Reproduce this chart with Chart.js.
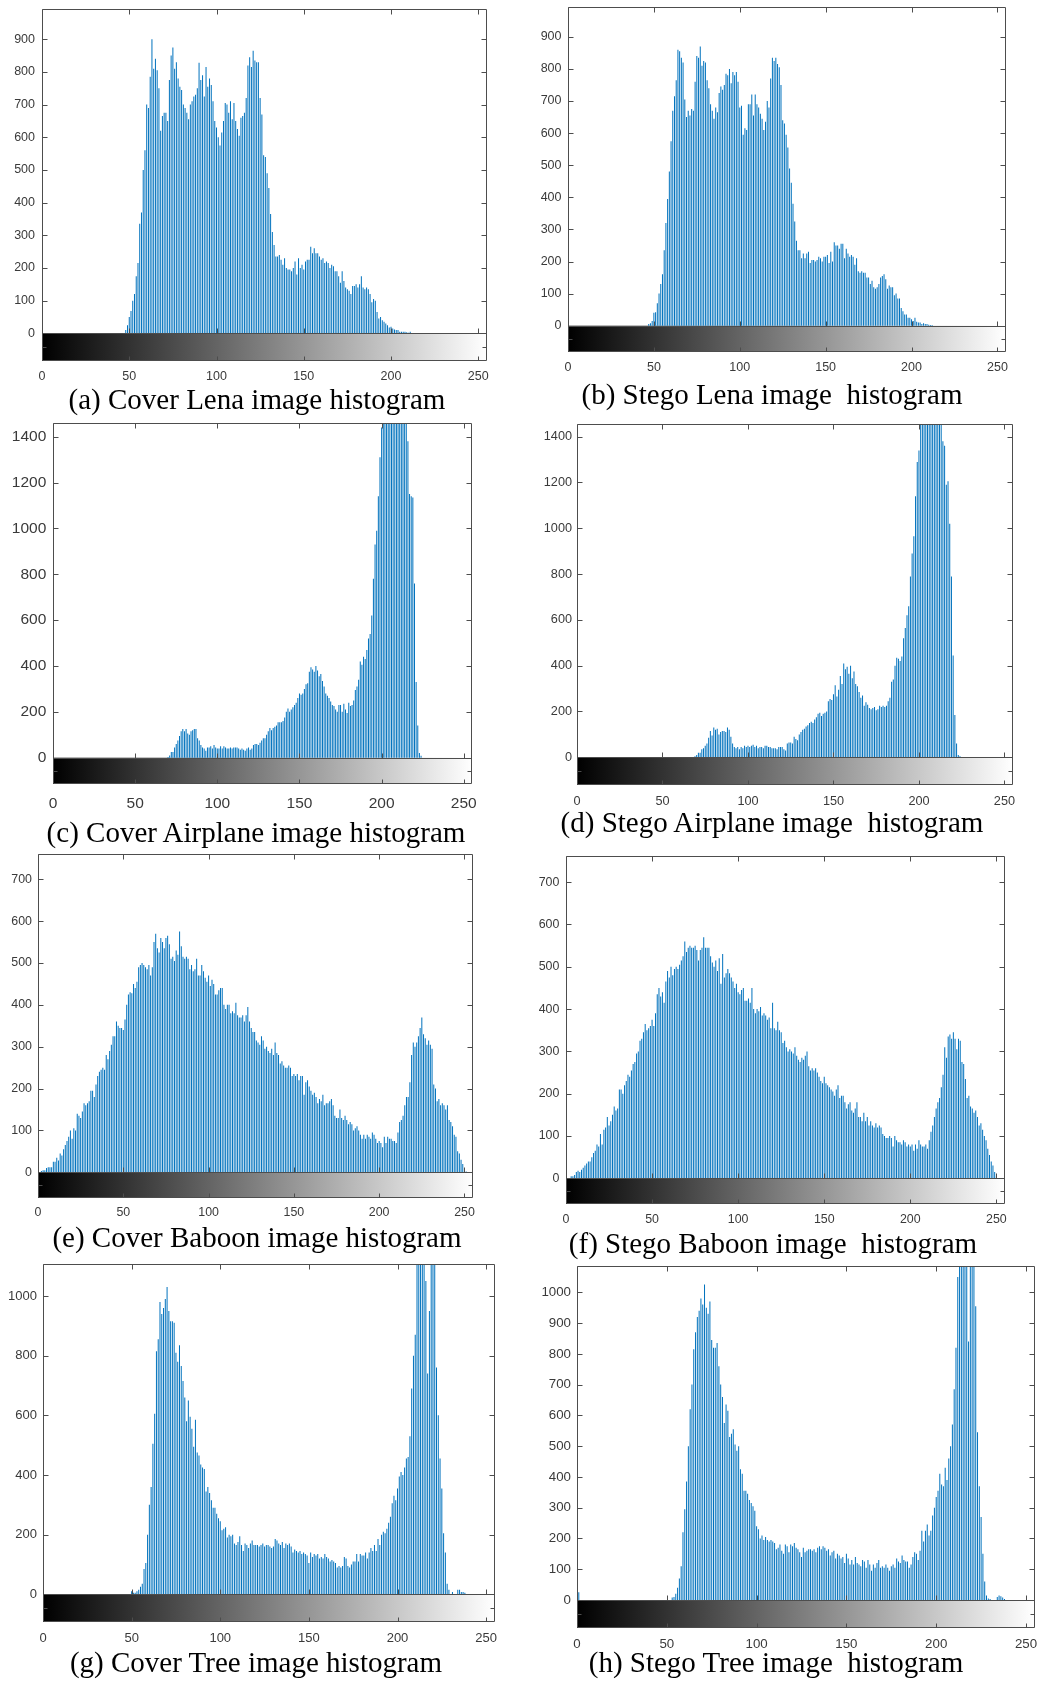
<!DOCTYPE html>
<html><head><meta charset="utf-8">
<script src="https://cdn.jsdelivr.net/npm/chart.js@4.4.0/dist/chart.umd.min.js"></script>
<style>
html,body{margin:0;padding:0;background:#fff;}
body{width:1038px;height:1681px;position:relative;overflow:hidden;}
canvas.pane{position:absolute;}
.cap{position:absolute;font-family:'Liberation Serif','Times New Roman',serif;font-size:29px;line-height:29px;color:#000;white-space:pre;transform:translateX(-50%);}
</style></head><body>
<script>
// ---------- tick labels ----------
const xTickValues = [0, 50, 100, 150, 200, 250];
const yTicksLena = [0, 100, 200, 300, 400, 500, 600, 700, 800, 900];
const yTicksAirplane = [0, 200, 400, 600, 800, 1000, 1200, 1400];
const yTicksBaboon = [0, 100, 200, 300, 400, 500, 600, 700];
const yTicksTreeCover = [0, 200, 400, 600, 800, 1000];
const yTicksTreeStego = [0, 100, 200, 300, 400, 500, 600, 700, 800, 900, 1000];

// ---------- histogram counts (gray level bins 0..255, bins not listed are 0) ----------
const lenaCoverFirstBin = 48;
const lenaCoverCounts = [
10,25,50,68,100,120,175,215,335,370,
500,560,700,690,785,900,810,840,805,750,
620,665,675,675,650,775,850,875,810,830,
780,755,745,700,690,675,655,700,710,725,
730,750,828,775,790,725,815,755,780,760,
710,650,630,600,575,615,650,705,700,675,
710,655,705,650,625,605,660,665,675,720,
820,845,815,865,835,830,830,720,670,545,
540,490,445,365,310,270,235,235,240,225,
210,230,200,195,195,190,200,220,180,230,
200,210,195,220,225,225,265,245,260,245,
245,235,225,230,215,220,215,200,210,205,
190,190,175,155,190,160,140,135,130,120,
145,145,150,140,150,175,140,135,140,135,
120,95,105,100,65,45,50,40,35,30,
25,18,20,15,12,10,10,5,5,5,
5,3,2,5];

const lenaStegoFirstBin = 47;
const lenaStegoCounts = [
5,8,15,40,42,70,100,130,160,235,
320,395,480,575,670,715,765,860,855,835,
820,705,650,670,655,675,670,760,840,835,
870,810,825,820,765,740,690,670,645,680,
665,725,745,735,750,785,780,800,755,790,
780,790,760,680,685,595,615,610,690,690,
720,655,720,690,680,660,645,610,635,700,
680,770,835,825,835,815,805,750,640,630,
595,555,490,445,380,325,265,235,235,210,
225,210,225,230,195,205,205,200,205,215,
210,200,215,215,220,195,230,200,260,250,
250,240,255,255,210,240,225,215,220,215,
190,210,170,165,170,165,165,150,150,130,
140,120,115,120,130,150,155,160,145,115,
125,120,120,95,100,85,85,55,45,35,
35,25,25,20,15,25,12,10,10,5,
8,5,5,3,2,2];

const airplaneCoverFirstBin = 70;
const airplaneCoverCounts = [
3,10,25,25,45,60,75,95,115,125,
115,125,105,100,115,120,125,125,85,75,
55,45,40,30,45,45,50,40,55,45,
40,40,50,40,50,45,40,40,45,40,
45,45,45,40,35,40,35,30,40,45,
35,40,55,60,60,55,65,75,85,85,
100,115,130,120,130,135,140,155,155,155,
160,175,200,215,200,210,220,230,240,260,
280,275,280,300,320,325,375,395,385,375,
400,380,355,365,335,310,280,270,260,245,
230,225,210,200,230,230,200,235,210,195,
240,225,230,250,295,310,340,420,405,440,
430,470,520,540,620,780,930,990,1140,1310,
1440,1650,1900,2200,2500,2800,3000,3100,3050,2900,
2700,2500,2200,1950,1750,1600,1380,1150,1140,1135,
760,330,140,20,8];

const airplaneStegoFirstBin = 69;
const airplaneStegoCounts = [
5,10,20,20,35,40,50,60,85,115,
95,130,120,125,100,110,115,115,110,130,
120,90,60,45,40,45,35,45,40,50,
45,50,45,50,55,45,50,40,45,45,
40,50,50,45,45,40,40,40,35,45,
45,45,35,30,60,65,65,60,90,80,
75,100,110,120,125,135,140,150,155,150,
165,175,190,195,180,190,195,200,245,255,
250,275,315,265,295,355,320,410,385,395,
365,400,345,375,320,310,285,260,270,225,
240,230,215,210,215,220,205,210,225,220,
225,220,225,245,260,330,340,400,435,430,
420,440,520,565,620,660,790,890,965,1140,
1290,1340,1550,1800,2100,2400,2700,2900,3000,3050,
2950,2800,2500,2100,1700,1380,1360,1190,1205,1020,
790,445,185,60,10,5];

const baboonCoverFirstBin = 2;
const baboonCoverCounts = [
3,5,5,10,12,12,12,25,25,35,28,45,40,55,65,75,85,100,80,105,
100,140,135,130,145,165,160,165,170,195,195,180,210,230,240,245,250,245,280,270,
290,305,
325,325,360,350,345,345,340,365,400,425,430,428,450,440,455,490,495,500,495,490,
485,495,470,490,550,570,535,525,560,550,535,560,565,545,510,515,505,530,520,575,
540,515,
510,515,510,485,495,480,485,510,470,470,495,480,465,455,470,445,460,450,425,425,
435,440,440,400,390,400,400,380,385,380,405,375,370,370,375,360,375,395,360,345,
335,335,
315,310,305,325,315,295,300,290,285,295,280,310,285,280,260,265,255,250,250,255,
250,230,235,230,235,220,230,230,185,215,220,205,195,185,190,180,165,175,170,185,
160,165,
165,170,175,160,135,130,130,150,130,125,135,125,115,120,115,100,105,110,100,90,
80,90,80,90,85,80,95,90,80,70,75,70,60,85,70,85,80,80,75,75,
70,95,120,125,135,160,180,180,215,280,310,300,310,325,345,370,330,320,305,315,
305,295,210,200,170,175,160,165,160,150,160,125,120,110,90,85,50,45,30,20,
10,2];

const baboonStegoFirstBin = 3;
const baboonStegoCounts = [
5,5,8,15,18,15,20,25,30,35,40,40,50,60,65,80,75,105,80,115,120,145,125,135,150,170,160,165,210,
210,200,220,230,245,240,255,270,275,295,300,325,330,345,365,350,355,360,375,360,390,435,450,430,440,415,465,490,475,
500,480,495,500,495,505,515,525,560,535,545,550,545,545,550,540,515,540,545,570,545,545,545,525,510,500,515,490,520,
460,530,475,485,495,485,475,465,450,460,440,435,445,450,420,420,425,415,450,400,390,400,395,405,385,390,385,375,380,
355,415,355,350,370,350,345,320,325,310,300,305,300,295,310,290,280,275,285,280,290,300,265,255,260,255,260,250,240,
230,225,240,225,220,215,210,205,195,210,220,190,195,195,180,165,175,180,160,155,165,180,145,145,135,155,135,145,125,
135,125,120,130,120,125,120,105,100,95,95,100,95,75,100,90,85,85,80,90,85,75,80,75,80,65,80,70,90,
80,75,75,80,70,90,110,125,145,165,180,190,215,245,310,285,335,340,330,345,330,305,330,325,275,270,235,190,195,
170,165,155,160,145,125,130,115,100,90,70,55,40,30,15,5];

const treeCoverLowBins = [250];
const treeCoverFirstBin = 50;
const treeCoverCounts = [
10,5,5,10,15,25,35,85,105,200,300,360,505,605,
815,855,980,940,960,990,1030,950,915,915,910,810,780,835,
765,715,660,580,650,595,555,495,585,475,465,435,425,420,
345,360,340,315,290,290,270,255,245,215,220,225,190,200,
195,200,170,165,175,195,165,145,170,165,155,170,180,165,
165,165,160,165,170,160,165,165,160,155,160,185,180,170,
165,175,155,170,165,170,160,140,150,145,140,145,135,140,
135,130,105,140,125,135,130,135,120,125,120,135,125,120,
110,115,110,105,90,95,90,95,125,120,95,90,100,110,
110,135,110,135,130,130,140,120,140,155,145,165,145,185,
165,200,210,205,220,240,260,305,330,315,
355,395,410,400,425,455,460,530,690,800,
870,1150,1200,1250,1220,1180,1050,740,950,1300,
1350,1250,760,600,455,355,205,140,35,15,
0,8,0,0,15,15,8,8,5];

const treeStegoLowBins = [230, 25];
const treeStegoFirstBin = 53;
const treeStegoCounts = [
8,10,20,40,70,110,220,295,385,500,
620,700,815,870,920,940,980,960,1025,950,
930,970,845,820,820,835,760,700,660,575,
635,615,530,540,555,505,485,500,425,410,
355,355,345,325,315,305,290,240,230,200,
210,195,205,195,190,195,190,185,165,170,
180,160,150,180,175,155,180,175,185,170,
165,155,140,170,155,160,165,165,160,165,
155,170,175,165,175,170,160,165,
145,155,160,135,150,145,135,140,120,150,
135,115,130,115,140,120,115,110,130,125,
105,130,115,95,115,105,120,130,105,110,
105,115,105,95,110,115,105,
135,125,120,145,130,125,125,105,115,140,
155,150,130,160,225,190,225,245,210,225,
275,300,335,355,410,375,370,430,390,460,
500,570,685,820,1050,
1200,1300,1350,1250,1100,840,1150,1300,1250,955,
545,370,270,150,60,15,5,3,0,0,0,10,15,12,8,3];

// ---------- helpers ----------
function buildHistogram(firstBin, counts, lowBins) {
  const h = new Array(256).fill(0);
  (lowBins || []).forEach((v, i) => { h[i] = v; });
  counts.forEach((v, i) => { h[firstBin + i] = v; });
  return h;
}

const BAR_BLUE = '#0072BD';
const AXIS_GRAY = '#4d4d4d';
const LABEL_GRAY = '#3a3a3a';

const matlabFrame = {
  id: 'matlabFrame',
  beforeDatasetsDraw(chart) {
    const {ctx, chartArea: a, scales: {x, y}} = chart;
    const y0 = y.getPixelForValue(0);
    const g = ctx.createLinearGradient(x.getPixelForValue(0), 0, x.getPixelForValue(255), 0);
    g.addColorStop(0, '#000000');
    g.addColorStop(1, '#ffffff');
    ctx.save();
    ctx.fillStyle = g;
    ctx.fillRect(a.left, y0, a.right - a.left, a.bottom - y0);
    ctx.restore();
  },
  afterDraw(chart) {
    const {ctx, chartArea: a, scales: {x, y}} = chart;
    const y0 = Math.round(y.getPixelForValue(0)) + 0.5;
    const L = a.left + 0.5, R = a.right - 0.5, T = a.top + 0.5, B = a.bottom - 0.5;
    ctx.save();
    ctx.strokeStyle = AXIS_GRAY;
    ctx.lineWidth = 1;
    ctx.beginPath();
    ctx.rect(L, T, R - L, B - T);
    ctx.moveTo(L, y0); ctx.lineTo(R, y0);
    const tk = 5;
    y.ticks.forEach(t => {
      const py = Math.round(y.getPixelForValue(t.value)) + 0.5;
      ctx.moveTo(L, py); ctx.lineTo(L + tk, py);
      ctx.moveTo(R, py); ctx.lineTo(R - tk, py);
    });
    x.ticks.forEach(t => {
      const px = Math.round(x.getPixelForValue(t.value)) + 0.5;
      ctx.moveTo(px, T); ctx.lineTo(px, T + tk);
      ctx.moveTo(px, y0); ctx.lineTo(px, y0 - tk);
      ctx.moveTo(px, B); ctx.lineTo(px, B - 4);
    });
    const ym = Math.round((y0 + B) / 2) + 0.5;
    ctx.moveTo(L, ym); ctx.lineTo(L + 4, ym);
    ctx.moveTo(R, ym); ctx.lineTo(R - 4, ym);
    ctx.stroke();
    ctx.restore();
  }
};

// ---------- panels (layout) ----------
const panels = [
  {hist: buildHistogram(lenaCoverFirstBin, lenaCoverCounts), L:42, R:487, T:9, B:361, Z:333.3, ppu:0.3267, yt:yTicksLena, fs:12.5, ypad:7, xoff:16,
   cap:'(a) Cover Lena image histogram', cx:257, cb:409},
  {hist: buildHistogram(lenaStegoFirstBin, lenaStegoCounts), L:568, R:1006, T:7, B:352, Z:325.7, ppu:0.321, yt:yTicksLena, fs:12.5, ypad:6.5, xoff:15.4,
   cap:'(b) Stego Lena image  histogram', cx:772, cb:404},
  {hist: buildHistogram(airplaneCoverFirstBin, airplaneCoverCounts), L:53, R:472, T:423, B:784, Z:757.7, ppu:0.2293, yt:yTicksAirplane, fs:15.5, ypad:6.7, xoff:20,
   cap:'(c) Cover Airplane image histogram', cx:256, cb:842},
  {hist: buildHistogram(airplaneStegoFirstBin, airplaneStegoCounts), L:577, R:1013, T:424, B:785, Z:757.3, ppu:0.229, yt:yTicksAirplane, fs:12.7, ypad:5, xoff:16,
   cap:'(d) Stego Airplane image  histogram', cx:772, cb:832},
  {hist: buildHistogram(baboonCoverFirstBin, baboonCoverCounts), L:38, R:473, T:854, B:1198, Z:1172.3, ppu:0.4186, yt:yTicksBaboon, fs:12.4, ypad:6, xoff:15,
   cap:'(e) Cover Baboon image histogram', cx:257, cb:1247},
  {hist: buildHistogram(baboonStegoFirstBin, baboonStegoCounts), L:566, R:1005, T:856, B:1204, Z:1178.3, ppu:0.423, yt:yTicksBaboon, fs:12.4, ypad:6.7, xoff:15.7,
   cap:'(f) Stego Baboon image  histogram', cx:773, cb:1253},
  {hist: buildHistogram(treeCoverFirstBin, treeCoverCounts, treeCoverLowBins), L:43, R:495, T:1264, B:1622, Z:1594.3, ppu:0.2983, yt:yTicksTreeCover, fs:13, ypad:6, xoff:16.6,
   cap:'(g) Cover Tree image histogram', cx:256, cb:1672},
  {hist: buildHistogram(treeStegoFirstBin, treeStegoCounts, treeStegoLowBins), L:577, R:1035, T:1266, B:1628, Z:1600, ppu:0.3077, yt:yTicksTreeStego, fs:13.3, ypad:6, xoff:16.6,
   cap:'(h) Stego Tree image  histogram', cx:776, cb:1672}
];

const padL = 50, padR = 24, padT = 20, padB = 30;

panels.forEach(p => {
  const cv = document.createElement('canvas');
  cv.className = 'pane';
  const w = (p.R - p.L) + padL + padR;
  const h = (p.B - p.T) + padT + padB;
  cv.width = w; cv.height = h;
  cv.style.width = w + 'px'; cv.style.height = h + 'px';
  cv.style.left = (p.L - padL) + 'px';
  cv.style.top = (p.T - padT) + 'px';
  document.body.appendChild(cv);

  const ymax = (p.Z - p.T) / p.ppu;
  const ymin = -(p.B - p.Z) / p.ppu;
  const font = {family: "'Liberation Sans', Arial, Helvetica, sans-serif", size: p.fs};

  new Chart(cv, {
    type: 'bar',
    data: {datasets: [{
      data: p.hist.map((v, i) => ({x: i, y: v})),
      backgroundColor: BAR_BLUE,
      borderWidth: 0,
      inflateAmount: 0,
      barThickness: 1
    }]},
    options: {
      responsive: false,
      animation: false,
      devicePixelRatio: 1,
      events: [],
      layout: {padding: {left: 0, right: padR, top: padT, bottom: 0}},
      plugins: {legend: {display: false}, tooltip: {enabled: false}},
      scales: {
        x: {
          type: 'linear', min: 0, max: 255, offset: false,
          grid: {display: false, drawTicks: false, offset: false},
          border: {display: false},
          ticks: {font, color: LABEL_GRAY, padding: p.xoff - 0.6 * p.fs, maxRotation: 0, autoSkip: false,
                  callback: v => String(v)},
          afterBuildTicks: ax => { ax.ticks = xTickValues.map(v => ({value: v})); },
          afterFit: ax => { ax.height = padB; }
        },
        y: {
          type: 'linear', min: ymin, max: ymax,
          grid: {display: false, drawTicks: false},
          border: {display: false},
          ticks: {font, color: LABEL_GRAY, padding: p.ypad, autoSkip: false,
                  callback: v => String(v)},
          afterBuildTicks: ax => { ax.ticks = p.yt.map(v => ({value: v})); },
          afterFit: ax => { ax.width = padL; }
        }
      }
    },
    plugins: [matlabFrame]
  });

  const c = document.createElement('div');
  c.className = 'cap';
  c.textContent = p.cap;
  c.style.left = p.cx + 'px';
  c.style.top = (p.cb - 24.3) + 'px';
  document.body.appendChild(c);
});
</script>
</body></html>
